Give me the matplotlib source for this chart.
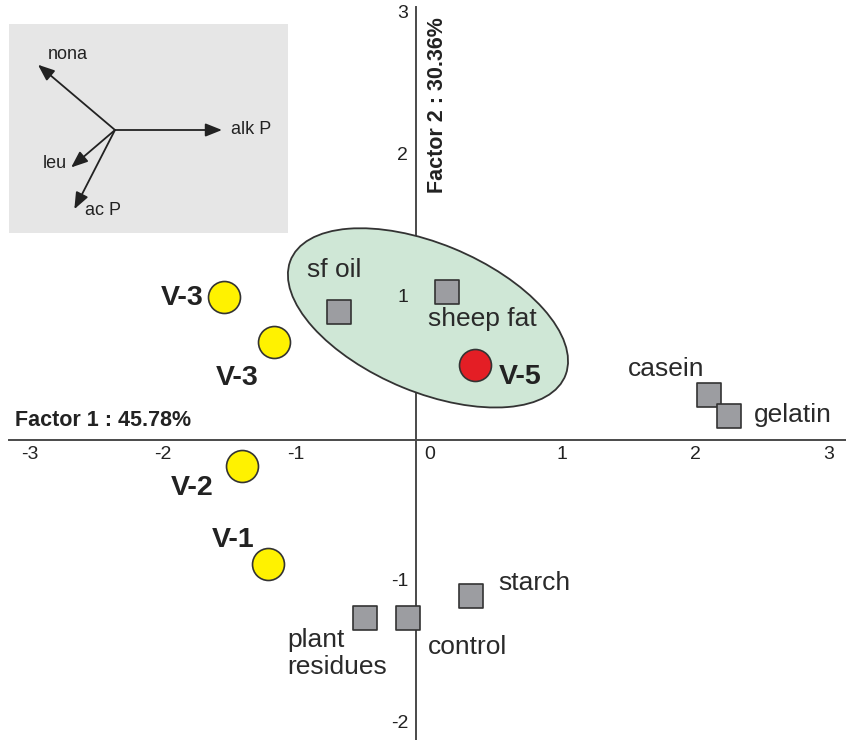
import numpy as np
import matplotlib
matplotlib.use('Agg')
import matplotlib.pyplot as plt
from matplotlib.patches import Ellipse

plt.rcParams['font.family'] = ['Liberation Sans', 'DejaVu Sans']

# sample scores on the first two factors
treat_names = ["sf oil", "sheep fat", "casein", "gelatin", "plant\nresidues", "control", "starch"]
treat_x = [-0.58, 0.23, 2.20, 2.35, -0.38, -0.06, 0.41]
treat_y = [0.90, 1.04, 0.32, 0.17, -1.25, -1.25, -1.10]
treat_off = [(-32, 42), (-19, -27), (-81, 26), (25, 1), (-78, -36), (20, -30), (28, 13)]

vessel_names = ["V-3", "V-3", "V-2", "V-1"]
vessel_x = [-1.44, -1.07, -1.31, -1.11]
vessel_y = [1.01, 0.69, -0.18, -0.87]
vessel_off = [(-21, -1), (-37, -36), (-50, -22), (-35, 24)]
vessel_ha = ["right", "center", "center", "center"]

v5_x, v5_y = 0.44, 0.53

# fat group outline
grp_center = (0.09, 0.86)
grp_width, grp_height, grp_angle = 2.22, 1.05, -21

# enzyme loadings for the inset
load_names = ["nona", "alk P", "leu", "ac P"]
load_x = [-0.72, 1.0, -0.41, -0.38]
load_y = [0.61, 0.0, -0.35, -0.74]
load_lab = [(-0.63, 0.71, "left"), (1.08, 0.0, "left"), (-0.45, -0.31, "right"), (-0.28, -0.75, "left")]

x_ticks = [-3, -2, -1, 0, 1, 2, 3]
y_ticks = [3, 2, 1, -1, -2]

fig = plt.figure(figsize=(8.46, 7.4), dpi=100)
ax = fig.add_axes([0, 0, 1, 1])
ax.set_xlim(-416 / 133, 430 / 133)
ax.set_ylim(-300 / 142, 440 / 142)
ax.axis('off')

axis_col = '#4a4a4a'
ax.axhline(0, xmin=0.011, xmax=1, color=axis_col, lw=1.4, zorder=1)
ax.axvline(0, ymin=0, ymax=0.99, color=axis_col, lw=1.4, zorder=1)

for t in x_ticks:
    ax.text(t + 0.1, -0.1, f"{t}", ha='center', va='center', fontsize=14, color='#222')
for t in y_ticks:
    ax.text(-0.06, t, f"{t}", ha='right', va='center', fontsize=14, color='#222')

ax.text(-3.015, 0.134, "Factor 1 : 45.78%", ha='left', va='center', fontsize=15.5,
        fontweight='bold', color='#222')
ax.text(0.165, 2.36, "Factor 2 : 30.36%", ha='center', va='center', fontsize=15.5,
        fontweight='bold', rotation=90, color='#222')

ell = Ellipse(grp_center, grp_width, grp_height, angle=grp_angle,
              facecolor='#cfe7d6', edgecolor='#333', lw=1.3, zorder=2)
ax.add_patch(ell)

ax.scatter(treat_x, treat_y, marker='s', s=300, c='#9c9da1', edgecolors='#333', linewidths=1.2, zorder=4)
for name, x, y, (dx, dy) in zip(treat_names, treat_x, treat_y, treat_off):
    ax.annotate(name, (x, y), xytext=(dx, dy), textcoords='offset pixels', ha='left',
                va='center', fontsize=19, color='#2a2a2a', linespacing=1.2, zorder=5)

ax.scatter(vessel_x, vessel_y, marker='o', s=530, c='#fff200', edgecolors='#333', linewidths=1.2, zorder=4)
for name, x, y, (dx, dy), ha in zip(vessel_names, vessel_x, vessel_y, vessel_off, vessel_ha):
    ax.annotate(name, (x, y), xytext=(dx, dy), textcoords='offset pixels', ha=ha,
                va='center', fontsize=20.5, fontweight='bold', color='#222', zorder=5)

ax.scatter([v5_x], [v5_y], marker='o', s=530, c='#e41e25', edgecolors='#333', linewidths=1.2, zorder=4)
ax.annotate("V-5", (v5_x, v5_y), xytext=(24, -12), textcoords='offset pixels', ha='left',
            va='center', fontsize=20.5, fontweight='bold', color='#222', zorder=5)

# inset with loading vectors
ins = fig.add_axes([9 / 846, 1 - 233 / 740, 279 / 846, 209 / 740])
ins.set_xlim(-106 / 107, 173 / 107)
ins.set_ylim(-103 / 107, 106 / 107)
ins.set_facecolor('#e6e6e6')
for s in ins.spines.values():
    s.set_visible(False)
ins.set_xticks([])
ins.set_yticks([])
for name, x, y, (lx, ly, ha) in zip(load_names, load_x, load_y, load_lab):
    ins.annotate('', xy=(x, y), xytext=(0, 0),
                 arrowprops=dict(arrowstyle='-|>,head_length=1.0,head_width=0.4',
                                 color='#222', lw=1.3, shrinkA=0, shrinkB=0))
    ins.text(lx, ly, name, ha=ha, va='center', fontsize=13, color='#222')

fig.savefig('out.png', dpi=100)
